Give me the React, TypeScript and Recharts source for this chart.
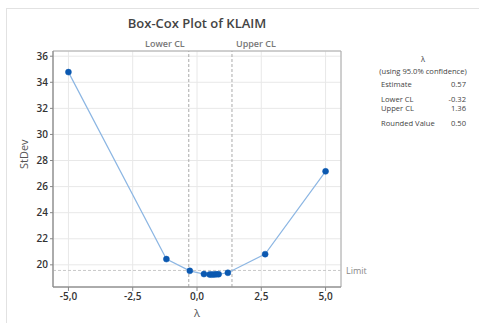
import React from 'react';
import { LineChart, Line, XAxis, YAxis, CartesianGrid, ReferenceLine, ReferenceArea } from 'recharts';

const lambdas = [-5, -1.19, -0.28, 0.27, 0.49, 0.57, 0.66, 0.75, 0.84, 1.2, 2.65, 5];
const stdevs = [34.78, 20.44, 19.54, 19.29, 19.26, 19.25, 19.26, 19.27, 19.28, 19.39, 20.82, 27.17];
const xTicks = [-5, -2.5, 0, 2.5, 5];
const yTicks = [20, 22, 24, 26, 28, 30, 32, 34, 36];
const lowerCL = -0.32;
const upperCL = 1.36;
const limit = 19.57;
const summaryRows = [
  { label: 'Estimate', value: '0.57' },
  { label: 'Lower CL', value: '-0.32' },
  { label: 'Upper CL', value: '1.36' },
  { label: 'Rounded Value', value: '0.50' },
];

const data = lambdas.map((l, i) => ({ lambda: l, stdev: stdevs[i] }));

const font = '"Open Sans", "Noto Sans", sans-serif';
const fmt = (v: number) => v.toFixed(1).replace('.', ',');

const clLabel = (text: string, side: 'left' | 'right') => (props: any) => {
  const vb = props.viewBox || {};
  const x = side === 'left' ? vb.x - 4 : vb.x + 4;
  return (
    <text x={x} y={vb.y - 4} textAnchor={side === 'left' ? 'end' : 'start'} fontSize={9} fontWeight={600} fill="#777" fontFamily={font}>
      {text}
    </text>
  );
};

export default function App() {
  return (
    <div style={{ position: 'absolute', left: 0, top: 0, width: 479, height: 323, background: '#fff', fontFamily: font }}>
      <div style={{ position: 'absolute', left: 6, top: 8, right: 0, bottom: 0, borderLeft: '1px solid #e2e2e2', borderTop: '1px solid #e2e2e2' }} />
      <div style={{ position: 'absolute', left: 0, width: 394, top: 14, textAlign: 'center', fontSize: 13, fontWeight: 600, color: '#444' }}>
        Box-Cox Plot of KLAIM
      </div>
      <LineChart width={479} height={323} data={data} margin={{ top: 51, right: 138, bottom: 16, left: 12 }} style={{ position: 'absolute', left: 0, top: 0 }}>
        <CartesianGrid stroke="#e8e8e8" />
        <XAxis
          type="number"
          dataKey="lambda"
          domain={[-5.6, 5.6]}
          ticks={xTicks}
          tickFormatter={fmt}
          allowDataOverflow
          stroke="#888"
          tick={{ fontSize: 10, fill: '#333', fontFamily: font, fontWeight: 600 }}
          tickSize={4}
          height={20}
          label={{ value: 'λ', position: 'insideBottom', offset: -10, fontSize: 11, fill: '#555', fontFamily: font }}
        />
        <YAxis
          type="number"
          domain={[18.3, 36.4]}
          ticks={yTicks}
          allowDataOverflow
          stroke="#888"
          tick={{ fontSize: 10, fill: '#333', fontFamily: font, fontWeight: 600 }}
          tickSize={3}
          width={41}
          label={{ value: 'StDev', angle: -90, position: 'insideLeft', offset: 12, fontSize: 11, fill: '#555', fontFamily: font }}
        />
        <ReferenceArea x1={-5.6} x2={5.6} y1={18.3} y2={36.4} fill="none" stroke="#aaa" strokeWidth={1} />
        <ReferenceLine x={lowerCL} stroke="#aaa" strokeDasharray="3 2" label={{ content: clLabel('Lower CL', 'left') }} />
        <ReferenceLine x={upperCL} stroke="#aaa" strokeDasharray="3 2" label={{ content: clLabel('Upper CL', 'right') }} />
        <ReferenceLine y={limit} stroke="#c8c8c8" strokeDasharray="3 2" label={{ value: 'Limit', position: 'right', offset: 5, fontSize: 9, fill: '#888', fontFamily: font }} />
        <Line
          type="linear"
          dataKey="stdev"
          stroke="#8cb6e3"
          strokeWidth={1.2}
          dot={{ r: 3, fill: '#0b58b0', stroke: '#0b58b0', strokeWidth: 0.5 }}
          isAnimationActive={false}
        />
      </LineChart>
      <div style={{ position: 'absolute', left: 376, top: 54, width: 94, fontSize: 7.6, color: '#444' }}>
        <div style={{ textAlign: 'center' }}>λ</div>
        <div style={{ textAlign: 'center', marginTop: 2, whiteSpace: 'nowrap' }}>(using 95.0% confidence)</div>
        {summaryRows.map((r, i) => (
          <div key={r.label} style={{ display: 'flex', justifyContent: 'space-between', paddingLeft: 5, paddingRight: 4, marginTop: i === 0 ? 3 : i === 2 ? -1 : 5 }}>
            <span>{r.label}</span>
            <span>{r.value}</span>
          </div>
        ))}
      </div>
    </div>
  );
}
